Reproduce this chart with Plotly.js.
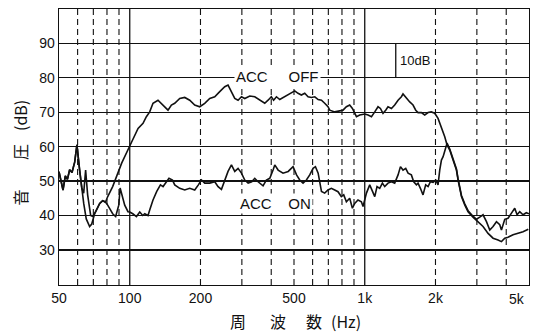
<!DOCTYPE html>
<html><head><meta charset="utf-8">
<script src="https://cdn.plot.ly/plotly-3.0.1.min.js"></script>
<style>body{margin:0;background:#fff}</style>
</head><body>
<div id="chart" style="width:533px;height:336px"></div>
<script>
// ACC OFF curve (frequency Hz, sound pressure dB)
const offFreq = [50,51.3,52.0,53.2,54.3,55.5,56.8,58.3,59.6,61.2,62.5,63.7,65.3,67.5,68.9,70.9,74.5,76.7,79.0,80.6,84.6,88.9,92.4,100,105,108.5,113.9,117.7,121.6,125.6,131.9,138.6,145.5,150.4,155.4,163.2,171.4,180,189,198.5,208.5,219,230,241.5,253.7,262,270.9,279.8,289,298.8,308.6,324.1,340.4,357.5,375.4,387.8,400.4,409.5,421,434.8,456.6,479.6,503.7,520.2,537.5,555.5,573.8,593.3,613,633.5,654.4,675.5,697.8,709.6,745.1,782.4,808,835.4,863,886.1,906.5,921.9,952.2,1000,1033,1068,1103,1139,1166,1196,1228,1256,1299,1341,1386,1432,1455,1504,1554,1605,1648,1686,1742,1800,1860,1919,1985,2051,2120,2190,2240,2300,2376,2456,2496,2537,2580,2664,2752,2889,3035,3187,3348,3516,3692,3817,3943,4072,4277,4492,4716,4966];
const offDb = [52.7,49.5,47.4,51.5,50.5,53.3,52.5,55.5,60.5,53.2,48,43.5,39,36.8,37.5,40.5,43.5,44.3,44,45.5,48.4,52.3,55.2,60.2,63.4,65.3,66.8,68.7,70.1,72.6,73.5,72.1,70.6,72.1,72.6,74.0,74.3,73.5,72.1,71.6,72.6,74,74.5,76,77.4,77.9,76,74,73.5,74.5,74,74.7,74.5,73.5,72.6,73.5,74.5,73.5,74.5,73.7,74.5,75.5,76.2,75.5,75,75.5,74.5,74.3,74.5,73.7,73.5,72.6,71.6,70.6,70.1,70.4,70.6,71.6,72.1,71.1,69.7,68.7,69.2,69.5,69.2,68.7,70.1,71.6,71.1,69.7,70.6,71.6,71.1,72.1,73.5,74.5,75.3,74.0,73.0,72.1,70.6,69.9,69.9,69.2,69.9,70.1,69.7,68.2,65.8,62.9,60.5,59,56.1,53.2,50.3,47.4,45.5,43.1,41.1,39.5,38.2,36.8,34.8,33.4,32.9,32.4,33.4,33.7,34.4,34.8,35.3,36];

// ACC ON curve
const onFreq = [50,51.3,52.0,53.2,54.3,55.5,56.8,58.3,59.6,61.2,62.5,63.7,64.9,66.2,68.2,69.6,71.6,74.5,76.7,79.8,82.2,84.6,87.1,89.8,91,92.4,95.2,98.3,100,103,106.8,110.3,113.6,115.8,119.6,121.6,125.6,130.3,135.1,138.6,142.4,146.9,152,155.4,163.2,171.4,180,189,195.9,201.9,208.5,219,230,237.6,245.6,253.7,262,270.9,279.8,289,298.8,308.6,319,330.4,340.4,351.6,369.2,381.3,394.3,407.3,414.1,428,449,472.4,495.4,512.6,528.9,546.3,564.6,583.4,602.8,616.9,633.5,654.4,675.5,697.8,721,745.1,769.5,794.7,813.8,835.4,863,886.1,906.5,936,967.7,983.5,1000,1016.8,1050,1078,1103,1128,1158,1189,1216,1256,1299,1341,1386,1419,1455,1494,1529,1579,1616,1659,1686,1725,1770,1817,1860,1903,1953,2005,2051,2085,2120,2155,2190,2240,2300,2376,2456,2496,2537,2580,2664,2752,2889,2988,3086,3187,3296,3404,3516,3635,3754,3817,3943,4072,4211,4348,4448,4566,4716,4873,5000];
const onDb = [52.7,49.5,47.4,51.5,50.5,53.3,52.5,55.5,60.5,53.2,48,46.5,53.2,46,40,39.7,41.1,43.5,44.3,43.5,42,40.5,39.7,43,48,46.5,43,41.1,41,40.5,39.7,41,40,40.5,40,41.6,44.5,47,48.9,48.4,49.4,50.8,50.3,48.9,47.9,47.4,47.9,47.4,48.9,50.3,49.4,49.4,49.8,48.4,47.6,50.3,52.8,54.7,52.8,53.7,52.3,50.3,49.4,49.8,50.8,49.8,48.6,50.3,50.8,53.2,54.7,53.2,52.3,52.8,54.2,51.8,50.3,49.4,50.3,51.8,53.7,54.2,52.3,47,46.5,47.4,47.9,47.4,46.9,45.5,46,44,45,42.1,43.5,44.5,44,42.6,44.5,46.5,48.9,47,45.5,48.4,47.9,49.4,48.4,49.4,49.8,49.4,51.8,54.2,53.2,53.7,52.3,51.8,49.8,48.9,49.4,47.9,46,48.9,48.4,49.8,49.6,50.3,48.9,53.2,56.1,57.1,59,61,59.3,56.4,53.5,50.6,47.7,45.8,43.4,41.4,39.8,38.9,39.5,40.2,38.2,35.8,36.8,38.2,37.3,35.8,38.9,39.2,40.7,42.1,40.2,41.1,40.2,40.8,40.5];

const xTickVals = [50,100,200,500,1000,2000];
const xTickText = ['50','100','200','500','1k','2k'];
const xEndTickVal = 5000, xEndTickText = '5k';
const yTickVals = [30,40,50,60,70,80,90];
const solidGridFreqs = [100,1000];
const dashedGridFreqs = [60,70,80,90,200,300,400,500,600,700,800,900,2000,3000,4000];
const scaleBar = {freq:1355, from:80, to:90, text:'10dB'};
const labelOff = {text:'ACC     OFF', freq:426, db:80.3};
const labelOn = {text:'ACC    ON', freq:418, db:43.5};
const xTitleParts = ['周','波','数','(Hz)'];
const yTitleParts = ['音','圧','(dB)'];

const black = '#111';
const tickFont = {family:'Liberation Sans, Arial, sans-serif', size:14, color:black};
const cjkFont = {family:'"Noto Sans CJK JP", sans-serif', size:16, color:black};
const L = Math.log10;

const traces = [
  {x:offFreq, y:offDb, type:'scatter', mode:'lines', line:{color:black, width:1.6, shape:'linear'}, hoverinfo:'skip', name:'ACC OFF'},
  {x:onFreq, y:onDb, type:'scatter', mode:'lines', line:{color:black, width:1.6, shape:'linear'}, hoverinfo:'skip', name:'ACC ON'}
];

// shapes on log axes take data (linear) values
const shapes = [];
solidGridFreqs.forEach(f => shapes.push({type:'line', layer:'below', xref:'x', yref:'paper', x0:f, x1:f, y0:0, y1:1, line:{color:black, width:1.3}}));
dashedGridFreqs.forEach(f => shapes.push({type:'line', layer:'below', xref:'x', yref:'paper', x0:f, x1:f, y0:0, y1:1, line:{color:black, width:1.1, dash:'6px,4px'}}));
shapes.push({type:'line', xref:'x', yref:'y', x0:scaleBar.freq, x1:scaleBar.freq, y0:scaleBar.from, y1:scaleBar.to, line:{color:black, width:1.3}});

const xPos = [0.3819, 0.4649, 0.5436, 0.6106];
const yPos = [0.317, 0.482, 0.616];
const labelFont = {family:'Liberation Sans, Arial, sans-serif', size:15, color:black};
const annotations = [
  {xref:'x', yref:'y', x:L(labelOff.freq), y:labelOff.db, text:labelOff.text, showarrow:false, bgcolor:'#fff', font:labelFont, borderpad:1},
  {xref:'x', yref:'y', x:L(labelOn.freq), y:labelOn.db, text:labelOn.text, showarrow:false, bgcolor:'#fff', font:labelFont, borderpad:1},
  {xref:'x', yref:'y', x:L(scaleBar.freq), y:(scaleBar.from+scaleBar.to)/2, xanchor:'left', xshift:2, text:scaleBar.text, showarrow:false, font:{family:'Liberation Sans, Arial, sans-serif', size:13, color:black}},
  {xref:'x', yref:'paper', x:L(xEndTickVal), y:0, xanchor:'right', yanchor:'top', yshift:-4, xshift:-2, text:xEndTickText, showarrow:false, font:tickFont}
];
xTitleParts.forEach((t,i) => annotations.push({xref:'paper', yref:'paper', x:xPos[i], y:-0.13, xanchor:'center', yanchor:'middle', text:t, showarrow:false, font:cjkFont}));
yTitleParts.forEach((t,i) => annotations.push({xref:'paper', yref:'paper', x:-0.083, y:yPos[i], xanchor:'center', yanchor:'middle', textangle:-90, text:t, showarrow:false, font:cjkFont}));

const layout = {
  width:533, height:336,
  margin:{l:59, r:4, t:9, b:51},
  paper_bgcolor:'#fff', plot_bgcolor:'#fff',
  showlegend:false,
  xaxis:{type:'log', range:[L(50), L(5000)], tickvals:xTickVals, ticktext:xTickText, showgrid:false, zeroline:false,
         showline:true, mirror:true, linecolor:black, linewidth:1.3, ticks:'', tickfont:tickFont},
  yaxis:{range:[19.8,100], tickvals:yTickVals, showgrid:true, gridcolor:black, gridwidth:1.2, zeroline:false,
         showline:true, mirror:true, linecolor:black, linewidth:1.3, ticks:'', tickfont:tickFont},
  shapes:shapes,
  annotations:annotations
};
Plotly.newPlot('chart', traces, layout, {staticPlot:true, displayModeBar:false});
</script>
</body></html>
